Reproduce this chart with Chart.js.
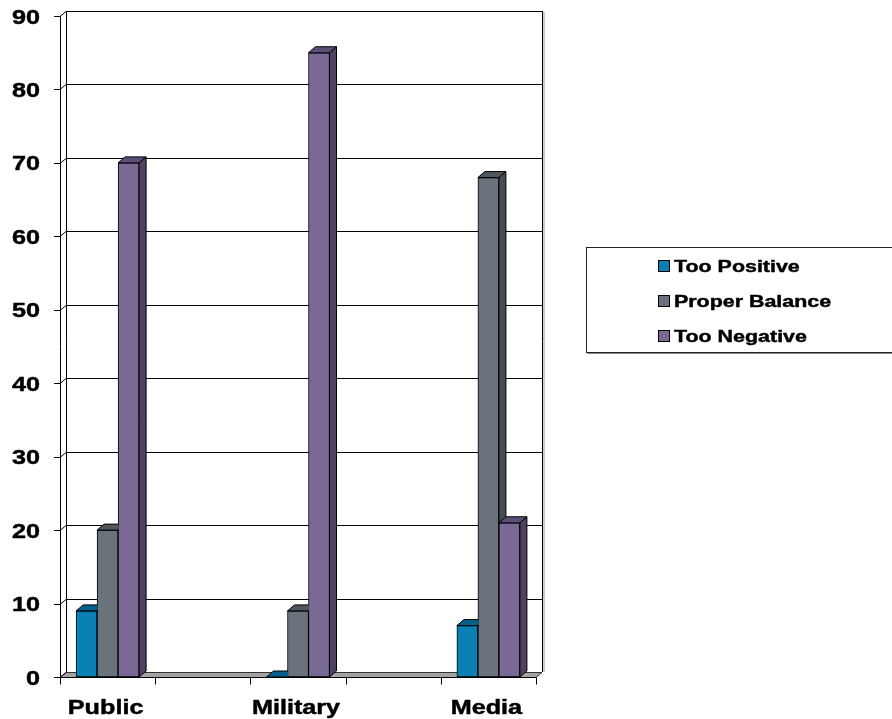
<!DOCTYPE html>
<html>
<head>
<meta charset="utf-8">
<title>Media coverage assessment</title>
<script src="https://cdn.jsdelivr.net/npm/chart.js@4/dist/chart.umd.min.js"></script>
<style>
  html, body { margin: 0; padding: 0; background: #ffffff; }
  #wrap { width: 892px; height: 719px; position: relative; }
</style>
</head>
<body>
<div id="wrap"><canvas id="chart" width="892" height="719"></canvas></div>
<script>
// ---- data ----
const categories = ['Public', 'Military', 'Media'];
const seriesNames = ['Too Positive', 'Proper Balance', 'Too Negative'];
const tooPositive = [9, 0, 7];
const properBalance = [20, 9, 68];
const tooNegative = [70, 85, 21];
const yMin = 0;
const yMax = 90;
const yStep = 10;

// ---- styling ----
const frontColors = ['#0a80b4', '#6a727c', '#7a6895'];
const topColors   = ['#06618a', '#50565e', '#5b4e77'];
const sideColors  = ['#045577', '#464c54', '#4d4262'];
const wallDepth = { dx: 6, dy: -5 };
const barDepth  = { dx: 7, dy: -6 };
const labelFont = 'bold 20px "Liberation Sans", Arial, sans-serif';
const legendFont = 'bold 17px "Liberation Sans", Arial, sans-serif';
const textStretch = 1.26;

// bold text, widened horizontally
function stretchedText(ctx, text, x, y, align, baseline, font, sx) {
  ctx.save();
  ctx.font = font;
  ctx.textBaseline = baseline;
  ctx.textAlign = 'left';
  const w = ctx.measureText(text).width * sx;
  const left = align === 'right' ? x - w : (align === 'center' ? x - w / 2 : x);
  ctx.translate(left, y);
  ctx.scale(sx, 1);
  ctx.fillStyle = '#000000';
  ctx.strokeStyle = '#000000';
  ctx.lineWidth = 0.45;
  ctx.fillText(text, 0, 0);
  ctx.strokeText(text, 0, 0);
  ctx.restore();
}

function line(ctx, x1, y1, x2, y2) {
  ctx.beginPath();
  ctx.moveTo(x1, y1);
  ctx.lineTo(x2, y2);
  ctx.stroke();
}

// back wall, side wall, floor and axes
const wallsPlugin = {
  id: 'walls',
  beforeDatasetsDraw(chart) {
    const { ctx, chartArea: a, scales: { x, y } } = chart;
    const { dx, dy } = wallDepth;
    ctx.save();
    ctx.lineWidth = 1;

    // floor
    const fb = Math.round(a.bottom) + 0.5;
    ctx.beginPath();
    ctx.moveTo(a.left, fb);
    ctx.lineTo(a.right, fb);
    ctx.lineTo(a.right + dx, fb + dy);
    ctx.lineTo(a.left + dx, fb + dy);
    ctx.closePath();
    ctx.fillStyle = '#a3a3a3';
    ctx.fill();
    ctx.strokeStyle = '#333333';
    ctx.stroke();

    ctx.strokeStyle = '#000000';
    // grid lines on back wall and side wall
    y.ticks.forEach(t => {
      const py = Math.round(y.getPixelForValue(t.value)) + 0.5;
      if (t.value !== yMin) {
        line(ctx, a.left + dx, py + dy, a.right + dx, py + dy);
      }
      line(ctx, a.left, py, a.left + dx, py + dy);
      line(ctx, a.left - 6, py, a.left, py);
    });

    // wall edges
    const lx = Math.round(a.left) + 0.5;
    line(ctx, lx, a.top, lx, a.bottom);
    line(ctx, lx + dx, a.top + dy, lx + dx, a.bottom + dy);
    const rx = Math.round(a.right + dx) + 0.5;
    line(ctx, rx, a.top + dy, rx, a.bottom + dy);
    ctx.strokeStyle = '#9a9a9a';
    line(ctx, rx + 1.5, a.top + dy + 1, rx + 1.5, a.bottom + dy);

    // category axis with separator tick marks
    ctx.strokeStyle = '#000000';
    line(ctx, a.left, fb, a.right, fb);
    const marks = [x.min];
    categories.forEach((c, i) => { marks.push(i + 0.25); if (i + 0.75 <= x.max) marks.push(i + 0.75); });
    marks.forEach(val => {
      const px = Math.round(x.getPixelForValue(val)) + 0.5;
      line(ctx, px, fb, px, fb + 7);
    });
    ctx.restore();
  },
  afterDraw(chart) {
    const { ctx, scales: { x, y } } = chart;
    // value axis labels
    y.ticks.forEach(t => {
      const py = y.getPixelForValue(t.value);
      stretchedText(ctx, String(t.value), 40, py + 2, 'right', 'middle', labelFont, textStretch);
    });
    // category labels
    categories.forEach((c, i) => {
      const px = x.getPixelForValue(i);
      stretchedText(ctx, c, px - 2, 714, 'center', 'alphabetic', labelFont, textStretch);
    });

    // legend
    const bx = 586.5, by = 247.5, bw = 306, bh = 105;
    ctx.save();
    ctx.fillStyle = '#ffffff';
    ctx.fillRect(bx, by, bw, bh);
    ctx.strokeStyle = '#222222';
    ctx.lineWidth = 1;
    ctx.strokeRect(bx, by, bw, bh);
    ctx.strokeStyle = '#888888';
    line(ctx, bx + 1, by + bh + 1, bx + bw, by + bh + 1);
    chart.data.datasets.forEach((ds, i) => {
      const cy = 266 + i * 35;
      ctx.fillStyle = ds.backgroundColor;
      ctx.fillRect(658.5, cy - 5.5, 11, 11);
      ctx.strokeStyle = '#000000';
      ctx.strokeRect(658.5, cy - 5.5, 11, 11);
      stretchedText(ctx, ds.label, 674, cy + 1, 'left', 'middle', legendFont, textStretch);
    });
    ctx.restore();
  }
};

// top and side faces of the columns
const depthPlugin = {
  id: 'columnDepth',
  afterDatasetsDraw(chart) {
    const { ctx } = chart;
    const { dx, dy } = barDepth;
    const metas = chart.data.datasets.map((d, i) => chart.getDatasetMeta(i));
    for (let c = 0; c < categories.length; c++) {
      for (let s = 0; s < metas.length; s++) {
        const p = metas[s].data[c].getProps(['x', 'y', 'base', 'width'], true);
        const l = p.x - p.width / 2, r = p.x + p.width / 2;
        const top = p.y, base = p.base;
        ctx.save();
        // the next column in the group hides part of this one's faces
        const nextMeta = metas[s + 1];
        if (nextMeta) {
          const n = nextMeta.data[c].getProps(['x', 'y', 'base', 'width'], true);
          ctx.beginPath();
          ctx.rect(0, 0, chart.width, chart.height);
          ctx.rect(n.x - n.width / 2 + 0.5, n.y, n.width, n.base - n.y);
          ctx.clip('evenodd');
        }
        ctx.lineWidth = 1;
        ctx.strokeStyle = '#000000';
        ctx.lineJoin = 'round';
        // side face
        ctx.beginPath();
        ctx.moveTo(r, top);
        ctx.lineTo(r + dx, top + dy);
        ctx.lineTo(r + dx, base + dy);
        ctx.lineTo(r, base);
        ctx.closePath();
        ctx.fillStyle = sideColors[s];
        ctx.fill();
        ctx.stroke();
        // top face
        ctx.beginPath();
        ctx.moveTo(l, top);
        ctx.lineTo(r, top);
        ctx.lineTo(r + dx, top + dy);
        ctx.lineTo(l + dx, top + dy);
        ctx.closePath();
        ctx.fillStyle = topColors[s];
        ctx.fill();
        ctx.stroke();
        ctx.restore();
      }
    }
  }
};

const seriesValues = [tooPositive, properBalance, tooNegative];

new Chart(document.getElementById('chart'), {
  type: 'bar',
  data: {
    datasets: seriesNames.map((name, s) => ({
      label: name,
      data: categories.map((c, i) => ({ x: i, y: seriesValues[s][i] })),
      backgroundColor: frontColors[s],
      borderColor: '#000000',
      borderWidth: 1,
      borderSkipped: false,
      barThickness: 21
    }))
  },
  options: {
    responsive: false,
    animation: false,
    layout: { padding: { left: 60, right: 356, top: 16, bottom: 42 } },
    plugins: { legend: { display: false }, tooltip: { enabled: false } },
    scales: {
      x: { type: 'linear', min: -0.25, max: 2.25, display: false, offset: false },
      y: { type: 'linear', min: yMin, max: yMax, display: false, ticks: { stepSize: yStep } }
    }
  },
  plugins: [wallsPlugin, depthPlugin]
});
</script>
</body>
</html>
